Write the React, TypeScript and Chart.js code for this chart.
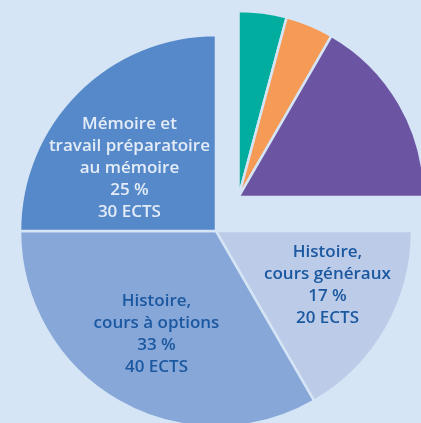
import React, { useEffect, useRef } from "react";
import { Chart, registerables } from "chart.js";

Chart.register(...registerables);

// ---- data ----
const categories = ["", "", "", "Histoire,\ncours généraux", "Histoire,\ncours à options", "Mémoire et\ntravail préparatoire\nau mémoire"];
const ectsValues = [5, 5, 20, 20, 40, 30];
const sliceColors = ["#00ad9f", "#f59b56", "#6b55a3", "#bccce8", "#87a7d9", "#5689c9"];
const labelColors = ["", "", "", "#1b58a0", "#1b58a0", "#e4ecf8"];
const showLabel = [false, false, false, true, true, true];

// ---- styles / layout ----
const BG = "#d5e5f5";
const W = 421;
const H = 423;
const RADIUS = 196;
// label placement: angle shift (deg) relative to the slice mid-angle, distance from centre (px)
const labelAngleShift = [0, 0, 0, -4, 0, -9];
const labelDistance = [0, 0, 0, 124, 119, 107];
// detached group (first three slices)
const detachedIdx = [0, 1, 2];
const detachDX = 22.5;
const detachDY = -34;
const detachRadius = 186;

const total = ectsValues.reduce((a, b) => a + b, 0);

const detachPlugin = {
  id: "detach",
  afterDatasetsUpdate(chart: any) {
    const meta = chart.getDatasetMeta(0);
    meta.data.forEach((el: any, i: number) => {
      if (detachedIdx.includes(i)) {
        el.x = el.x + detachDX;
        el.y = el.y + detachDY;
        el.outerRadius = detachRadius;
      }
    });
  },
};

const labelPlugin = {
  id: "sliceLabels",
  afterDatasetsDraw(chart: any) {
    const ctx = chart.ctx;
    const meta = chart.getDatasetMeta(0);
    meta.data.forEach((el: any, i: number) => {
      if (!showLabel[i]) return;
      const mid = (el.startAngle + el.endAngle) / 2 + (labelAngleShift[i] * Math.PI) / 180;
      const cx = el.x + Math.cos(mid) * labelDistance[i];
      const cy = el.y + Math.sin(mid) * labelDistance[i];
      const pct = Math.round((ectsValues[i] / total) * 100);
      const lines = [...categories[i].split("\n"), `${pct} %`, `${ectsValues[i]} ECTS`];
      const lh = 22;
      ctx.save();
      ctx.font = "600 17px 'Open Sans'";
      ctx.fillStyle = labelColors[i];
      ctx.textAlign = "center";
      ctx.textBaseline = "middle";
      const startY = cy - ((lines.length - 1) * lh) / 2;
      lines.forEach((ln, k) => ctx.fillText(ln, cx, startY + k * lh));
      ctx.restore();
    });
  },
};

export default function App() {
  const ref = useRef<HTMLCanvasElement>(null);
  useEffect(() => {
    document.body.style.margin = "0";
    document.body.style.background = BG;
    const chart = new Chart(ref.current!, {
      type: "pie",
      data: {
        labels: categories,
        datasets: [
          {
            data: ectsValues,
            backgroundColor: sliceColors,
            borderColor: BG,
            borderWidth: 2.5,
          },
        ],
      },
      options: {
        responsive: false,
        animation: false,
        radius: RADIUS,
        layout: { padding: { left: 11, right: 0, top: 39, bottom: 0 } },
        plugins: { legend: { display: false }, tooltip: { enabled: false } },
      } as any,
      plugins: [detachPlugin, labelPlugin],
    });
    return () => chart.destroy();
  }, []);
  return (
    <div style={{ width: W, height: H, background: BG }}>
      <canvas ref={ref} width={W} height={H} style={{ display: "block" }} />
    </div>
  );
}
